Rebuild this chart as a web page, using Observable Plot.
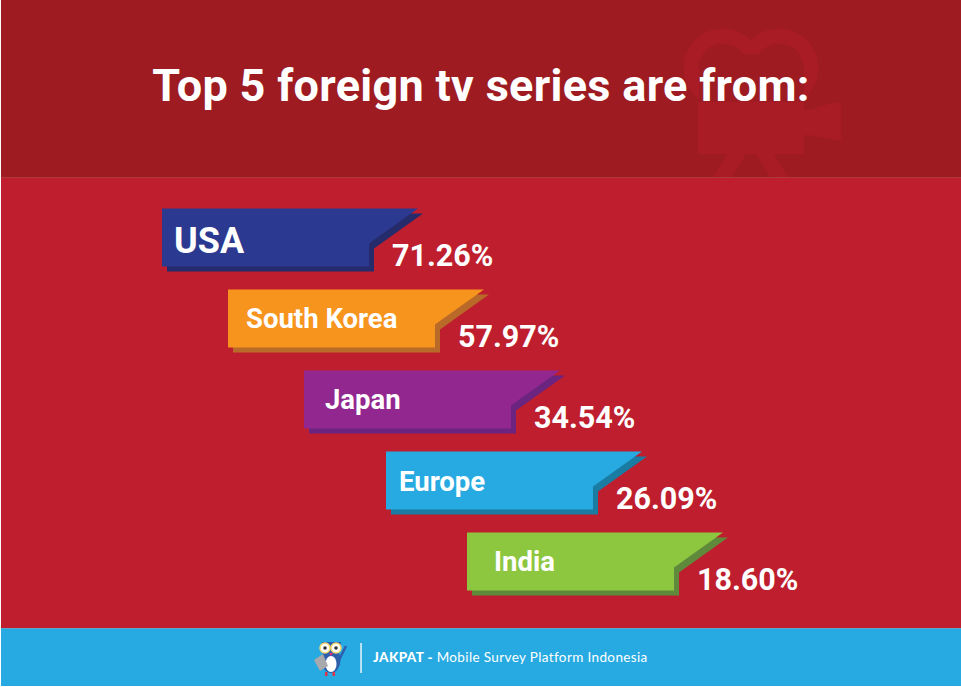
<!DOCTYPE html>
<html><head><meta charset="utf-8">
<script src="https://cdn.jsdelivr.net/npm/d3@7"></script>
<script src="https://cdn.jsdelivr.net/npm/@observablehq/plot@0.6"></script>
<style>
html,body{margin:0;padding:0;background:#fff;}
#page{position:absolute;left:1px;top:0;width:960px;height:686px;overflow:hidden;font-family:Roboto,sans-serif;}
#head{position:relative;height:177px;background:#9E1C21;border-bottom:1px solid #AE3A3E;}
#head svg{position:absolute;left:0;top:0;}
#head h1{position:absolute;left:0;width:960px;top:55px;margin:0;text-align:center;color:#fff;font-size:45px;line-height:62px;font-weight:700;letter-spacing:.31px;white-space:nowrap;}
#chart svg{display:block;}
#foot{position:relative;height:57px;background:#27AAE1;border-top:1px solid #5DA9C9;}
#foot svg{position:absolute;left:0;top:0;}
#foot p{position:absolute;left:372px;top:18px;margin:0;color:#fff;font:400 13.5px/20px Lato,sans-serif;letter-spacing:.37px;white-space:nowrap;}
</style></head>
<body>
<div id="page">
  <div id="head">
    <svg width="960" height="177" viewBox="1 0 960 177" aria-hidden="true">
      <g fill="#A91C26">
        <circle cx="723" cy="68" r="39.5"/><circle cx="779" cy="68" r="39.5"/>
      </g>
      <g fill="#9E1C21">
        <circle cx="723" cy="68" r="24.5"/><circle cx="779" cy="68" r="24.5"/>
        <path d="M743 54H760V68H804V103H699V68H743Z"/>
      </g>
      <path fill="#A91C26" d="M698 102H804V110C817 110 828 102 841 102V140C828 140 817 135 804 135V154H774L788 177H770L756 154H746L732 177H714L727 154H698Z"/>
    </svg>
    <h1 id="title"></h1>
  </div>
  <div id="chart"></div>
  <div id="foot">
    <svg width="960" height="57" viewBox="1 629 960 57" aria-hidden="true">
      <path d="M339 660L346 646" stroke="#2E5FAC" stroke-width="2.500" fill="none"/>
      <ellipse cx="331" cy="660" rx="9.500" ry="13" fill="#2E5FAC"/>
      <ellipse cx="331" cy="664" rx="5.500" ry="8" fill="#fff"/>
      <path d="M322 642L341 642L340 650L323 650Z" fill="#2E5FAC"/>
      <path d="M314 660L323 654L328 666L320 671Z" fill="#A7A9AC"/>
      <circle cx="325" cy="648" r="5" fill="#fff" stroke="#F5D76E" stroke-width="1.500"/>
      <circle cx="336" cy="648" r="5" fill="#fff" stroke="#F5D76E" stroke-width="1.500"/>
      <circle cx="325" cy="648" r="1.800" fill="#333"/><circle cx="336" cy="648" r="1.800" fill="#333"/>
      <path d="M329 653L333 653L331 656Z" fill="#EE2A7B"/>
      <rect x="325" y="672" width="2.500" height="4" fill="#D8344A"/><rect x="332.500" y="672" width="2.500" height="4" fill="#D8344A"/>
      <rect x="360.300" y="643" width="1.500" height="30" fill="#E8F4FA"/>
    </svg>
    <p><b style="font-weight:900">JAKPAT -</b> <span id="sub"></span></p>
  </div>
</div>
<script>
const titleText = "Top 5 foreign tv series are from:";
const footerText = "Mobile Survey Platform Indonesia";
const categories = ["USA", "South Korea", "Japan", "Europe", "India"];
const values = [71.26, 57.97, 34.54, 26.09, 18.60];
const barColors = ["#2B3990", "#F7941E", "#92278F", "#27AAE1", "#8DC63F"];
const shadowColors = ["#262B6B", "#B96A28", "#6B2480", "#1A7BA3", "#5F8A3B"];
const labelInset = [12, 18, 21, 13, 27];
const labelSize = [36, 27.5, 27.5, 27.5, 27.5];
const labelDrop = [32, 29, 29, 30, 29];

document.getElementById("title").textContent = titleText;
document.getElementById("sub").textContent = footerText;

const rows = categories.map((category, i) => ({
  category, value: values[i], fill: barColors[i], shadow: shadowColors[i],
  size: labelSize[i], inset: labelInset[i], drop: labelDrop[i]
}));

// The flag-shaped bar, drawn from its top-left corner.
const flag = {
  draw(c) {
    c.moveTo(0, 0); c.lineTo(256, 0); c.lineTo(207, 35);
    c.lineTo(207, 58); c.lineTo(0, 58); c.closePath();
  }
};

const font = {fontFamily: 'Roboto, sans-serif', fontWeight: 700};

const plot = Plot.plot({
  width: 960, height: 450,
  marginTop: 0, marginRight: 0, marginBottom: 0, marginLeft: 0,
  style: {background: "#BE1E2D"},
  x: {type: "linear", domain: values, range: [160.5, 226.5, 302.5, 384.5, 465.5], axis: null},
  y: {type: "point", domain: categories, range: [29, 354], padding: 0, axis: null},
  marks: [
    Plot.dot(rows, {x: "value", y: "category", symbol: flag, dx: 5, dy: 5,
      fill: {value: "shadow", scale: null}}),
    Plot.dot(rows, {x: "value", y: "category", symbol: flag,
      fill: {value: "fill", scale: null}}),
    ...rows.map(r => Plot.text([r], {
      x: "value", y: "category", text: "category", fill: "#fff", textAnchor: "start",
      fontSize: r.size, dx: r.inset, dy: r.drop + 1, ...font
    })),
    Plot.text(rows, {
      x: "value", y: "category", text: d => d.value.toFixed(2) + "%", fill: "#fff",
      textAnchor: "start", fontSize: 30.5, dx: 230, dy: 47.5, ...font
    })
  ]
});
document.getElementById("chart").append(plot);
</script>
</body></html>
